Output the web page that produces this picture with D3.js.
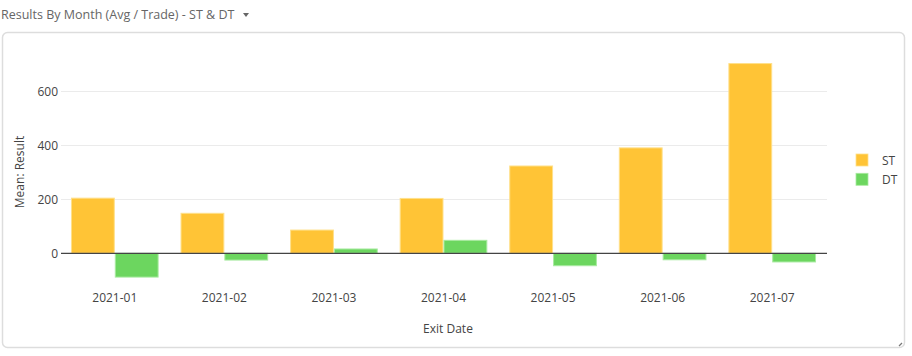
<!DOCTYPE html>
<html><head><meta charset="utf-8">
<script src="https://cdn.jsdelivr.net/npm/d3@7"></script>
<style>
body{margin:0;background:#fff;font-family:"Open Sans","Noto Sans",sans-serif;}
</style></head>
<body>
<svg id="c" width="912" height="356"></svg>
<script>
const months = ["2021-01","2021-02","2021-03","2021-04","2021-05","2021-06","2021-07"];
const seriesNames = ["ST","DT"];
const stValues = [204, 148, 86, 203, 323, 390, 702];
const dtValues = [-88, -25, 16, 48, -46, -24, -32];
const yTicks = [0, 200, 400, 600];
const colors = {ST:"#ffc436", DT:"#6cd65f"};
const strokes = {ST:"#ffe08a", DT:"#a8eaa0"};

const svg = d3.select("#c");
const font = "'Open Sans','Noto Sans',sans-serif";

// title
const title = svg.append("text").attr("x",1).attr("y",19)
  .attr("font-family",font).attr("font-size",12.5).attr("fill","#666")
  .text("Results By Month (Avg / Trade) - ST & DT");
svg.append("path").attr("d","M243,13 L249,13 L246,17 Z").attr("fill","#666");

// panel
svg.append("rect").attr("x",2.5).attr("y",32.5).attr("width",902).attr("height",315)
  .attr("rx",5).attr("fill","#fff").attr("stroke","#ddd").attr("stroke-width",1.5);
svg.append("path").attr("d","M899,346 L902,343 M902,346 L902,346").attr("stroke","#777").attr("stroke-width",1.2);

const x0 = d3.scaleBand().domain(months).range([60,827]).paddingInner(0.2).paddingOuter(0.1);
const x1 = d3.scaleBand().domain(seriesNames).range([0,x0.bandwidth()]);
const y = d3.scaleLinear().domain([-110,720]).range([253.3+110*0.2703, 253.3-720*0.2703]);

// grid
svg.append("g").selectAll("line").data(yTicks.filter(d=>d!==0)).join("line")
  .attr("x1",61).attr("x2",827).attr("y1",d=>Math.round(y(d))+0.5).attr("y2",d=>Math.round(y(d))+0.5)
  .attr("stroke","#ebebeb").attr("stroke-width",1);

// y tick labels
svg.append("g").selectAll("text").data(yTicks).join("text")
  .attr("x",58).attr("y",d=>y(d)+4.5).attr("text-anchor","end")
  .attr("font-family",font).attr("font-size",12).attr("fill","#444").text(d=>d);

// bars
const data = months.map((m,i)=>({m, vals:[{k:"ST",v:stValues[i]},{k:"DT",v:dtValues[i]}]}));
const g = svg.append("g");
g.selectAll("g").data(data).join("g")
  .attr("transform",d=>`translate(${x0(d.m)},0)`)
  .selectAll("rect").data(d=>d.vals).join("rect")
  .attr("x",d=>x1(d.k)+0.5).attr("width",x1.bandwidth()-1)
  .attr("y",d=>y(Math.max(0,d.v))).attr("height",d=>Math.abs(y(d.v)-y(0)))
  .attr("fill",d=>colors[d.k]).attr("stroke",d=>strokes[d.k]).attr("stroke-width",1);

// zero line
svg.append("line").attr("x1",61).attr("x2",827).attr("y1",y(0)).attr("y2",y(0))
  .attr("stroke","#444").attr("stroke-width",1.3);

// x tick labels
svg.append("g").selectAll("text").data(months).join("text")
  .attr("x",d=>x0(d)+x0.bandwidth()/2).attr("y",302).attr("text-anchor","middle")
  .attr("font-family",font).attr("font-size",12).attr("fill","#444").text(d=>d);

// axis titles
svg.append("text").attr("x",448).attr("y",333).attr("text-anchor","middle")
  .attr("font-family",font).attr("font-size",12).attr("fill","#444").text("Exit Date");
svg.append("text").attr("transform","translate(24,172) rotate(-90)").attr("text-anchor","middle")
  .attr("font-family",font).attr("font-size",12).attr("fill","#444").text("Mean: Result");

// legend
const lg = svg.append("g");
seriesNames.forEach((s,i)=>{
  lg.append("rect").attr("x",856).attr("y",154+i*19.3).attr("width",12).attr("height",12)
    .attr("fill",colors[s]).attr("stroke",strokes[s]).attr("stroke-width",0.8);
  lg.append("text").attr("x",882).attr("y",164.5+i*19.3)
    .attr("font-family",font).attr("font-size",12).attr("fill","#444").text(s);
});
</script>
</body></html>
